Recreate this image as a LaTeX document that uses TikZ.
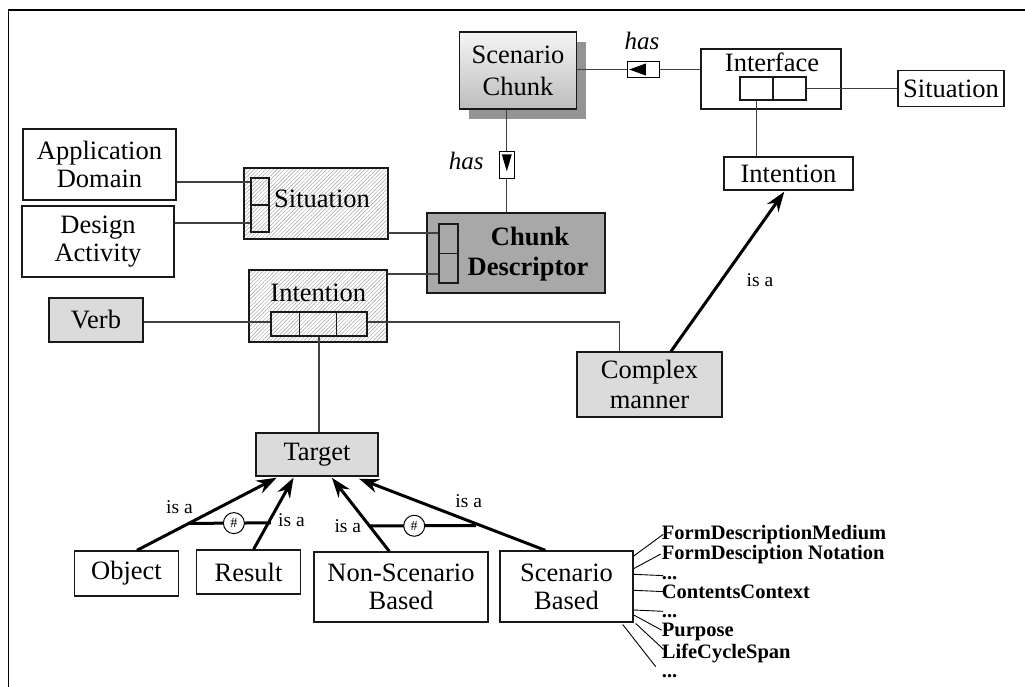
\documentclass[tikz,border=0pt]{standalone}
\usepackage{fontspec}
\setmainfont{Liberation Serif}
\usetikzlibrary{arrows.meta,patterns.meta,calc,shadows}

\newcommand\mtxt{\fontsize{26.5}{29}\selectfont}
\newcommand\stxt{\fontsize{19.5}{21}\selectfont}
\newcommand\atxt{\fontsize{20.5}{22}\selectfont\bfseries}

\tikzset{
  box/.style={rectangle, draw=black!90, line width=1.4pt, inner sep=0pt,
              align=center, font=\mtxt},
  greybox/.style={box, fill=black!14},
  darkbox/.style={box, fill=black!34},
  hatchbox/.style={box, pattern={Lines[angle=45,distance=2.7pt,line width=0.45pt]},
              pattern color=black!38},
  cell/.style={rectangle, draw=black!90, line width=1.2pt, inner sep=0pt},
  divline/.style={draw=black!90, line width=1.2pt},
  link/.style={draw=black!75, line width=1.2pt},
  thinlink/.style={draw=black, line width=0.9pt},
  isa/.style={draw=black, line width=3pt, -{Stealth[length=20pt,width=14pt]}},
  excl/.style={draw=black, line width=3pt},
  xorc/.style={circle, draw=black, line width=1pt, fill=white, minimum size=21pt,
              inner sep=0pt, font=\fontsize{14}{14}\selectfont},
  roletag/.style={rectangle, draw=black, line width=1.1pt, fill=white, inner sep=0pt},
  tagtip/.style={fill=black},
  rolelbl/.style={font=\fontsize{25}{25}\selectfont\itshape, inner sep=0pt, anchor=base},
  isalbl/.style={font=\stxt, inner sep=0pt},
  attr/.style={font=\atxt, inner sep=0pt, anchor=base west},
  txt/.style={font=\mtxt, inner sep=0pt, anchor=base},
}

\begin{document}
\begin{tikzpicture}[x=1pt,y=-1pt]
\useasboundingbox (0,0) rectangle (1025,687);
\draw[line width=1.5pt] (8.5,687) -- (8.5,10) -- (1025,10);

% ---- scenario chunk and its interface
\node[box, minimum width=117pt, minimum height=77pt, top color=black!4, bottom color=black!26,
  drop shadow={shadow xshift=9pt, shadow yshift=-10pt, fill=black!42, opacity=1}]
  (sc) at (518,70.5) {Scenario\\[3pt]Chunk};

\node[roletag, minimum width=32pt, minimum height=16pt] (hb1) at (643.3,69.5) {};
\fill[tagtip] ($(hb1.west)+(2.5,0)$) -- ($(hb1.west)+(19,-6)$) -- ($(hb1.west)+(19,6)$) -- cycle;
\node[rolelbl] (has1) at (642,50) {has};

\node[box, minimum width=140pt, minimum height=60pt] (if) at (771,79) {};
\node[txt] (iftxt) at (772,72) {Interface};
\node[cell, minimum width=66pt, minimum height=23pt] (ifc) at (773,88.5) {};
\draw[divline] (ifc.north) -- (ifc.south);

\node[box, minimum width=106pt, minimum height=36pt] (sitR) at (951,88.5) {Situation};
\node[box, minimum width=129pt, minimum height=33pt] (intR) at (788.5,173.5) {Intention};

\draw[link] (sc.east |- hb1.center) -- (hb1.west);
\draw[link] (hb1.east) -- (if.west |- hb1.center);
\draw[link] (ifc.east) -- (sitR.west |- ifc.east);
\coordinate (ifcl) at ($(ifc.south west)!0.25!(ifc.south east)$);
\draw[link] (ifcl) -- (ifcl |- intR.north);

% ---- chunk descriptor
\node[roletag, minimum width=15pt, minimum height=27pt] (hb2) at (506.8,165.4) {};
\fill[tagtip] ($(hb2.north)+(-5,3)$) -- ($(hb2.north)+(5,3)$) -- ($(hb2.north)+(0,20)$) -- cycle;
\node[rolelbl] (has2) at (466.3,170) {has};

\node[darkbox, minimum width=178pt, minimum height=80pt] (cd) at (516,253) {};
\node[txt, font=\mtxt\bfseries] (cdt1) at (530,245) {Chunk};
\node[txt, font=\mtxt\bfseries] (cdt2) at (528,275.7) {Descriptor};
\node[cell, minimum width=19pt, minimum height=59pt] (cdc) at (448.5,253.5) {};
\draw[divline] (cdc.west) -- (cdc.east);

\draw[link] (hb2.north |- sc.south) -- (hb2.north);
\draw[link] (hb2.south) -- (hb2.south |- cd.north);

% ---- situation
\node[box, minimum width=153pt, minimum height=71pt] (ad) at (99.5,164.5) {Application\\[-1pt]Domain};
\node[box, minimum width=152pt, minimum height=71pt] (da) at (98,241.5) {Design\\[-1pt]Activity};
\node[hatchbox, minimum width=144pt, minimum height=71pt] (sitL) at (316,203.5) {};
\node[txt] (sitLtxt) at (322,207.7) {Situation};
\node[cell, minimum width=18pt, minimum height=54pt] (sitLc) at (260,205) {};
\draw[divline] (sitLc.west) -- (sitLc.east);

\draw[link] (ad.east |- 0,182) -- (sitLc.west |- 0,182);
\draw[link] (da.east |- 0,223) -- (sitLc.west |- 0,223);
\draw[link] (sitL.east |- 0,233) -- (cdc.west |- 0,233);

% ---- intention
\node[hatchbox, minimum width=138pt, minimum height=72pt] (intL) at (318,306) {};
\node[txt] (intLtxt) at (318.3,301) {Intention};
\node[cell, minimum width=96pt, minimum height=24pt] (intLc) at (319,324) {};
\draw[divline] ($(intLc.north west)!0.302!(intLc.north east)$) -- ($(intLc.south west)!0.302!(intLc.south east)$);
\draw[divline] ($(intLc.north west)!0.677!(intLc.north east)$) -- ($(intLc.south west)!0.677!(intLc.south east)$);
\draw[link] (intL.east |- 0,274) -- (cdc.west |- 0,274);

\node[greybox, minimum width=94pt, minimum height=44pt] (vb) at (96,320) {Verb};
\node[greybox, minimum width=145pt, minimum height=65pt] (cm) at (649.5,384.5) {Complex\\[1pt]manner};
\node[greybox, minimum width=122pt, minimum height=43pt] (tg) at (317,454.5) {Target};

\draw[link] (vb.east |- 0,322) -- (intLc.west |- 0,322);
\draw[link] (intLc.east |- 0,322) -| ($(cm.north west)+(43,0)$);
\draw[link] (intLc.south) -- (intLc.south |- tg.north);

\draw[isa] ($(cm.north west)+(94.7,0)$) -- ($(intR.south west)+(61,1)$);
\node[isalbl] (isa5) at (760,280) {is a};

% ---- target specialisations
\node[box, minimum width=104pt, minimum height=45pt] (obj) at (126.5,573.5) {Object};
\node[box, minimum width=104pt, minimum height=44pt] (res) at (248.5,572) {Result};
\node[box, minimum width=174pt, minimum height=70pt] (nsb) at (401,587) {Non-Scenario\\[-1pt]Based};
\node[box, minimum width=133pt, minimum height=71pt] (sb) at (566.5,586.5) {Scenario\\[-1pt]Based};

\coordinate (oS) at ($(obj.north west)+(63.2,0)$);
\coordinate (oE) at ($(tg.south west)+(21.4,1)$);
\coordinate (rS) at ($(res.north west)+(57.8,0)$);
\coordinate (rE) at ($(tg.south west)+(38.2,1)$);
\coordinate (nS) at ($(nsb.north west)+(76,0)$);
\coordinate (nE) at ($(tg.south west)+(76.5,1)$);
\coordinate (sS) at ($(sb.north west)+(46,0)$);
\coordinate (sE) at ($(tg.south west)+(103.7,2)$);

\draw[isa] (oS) -- (oE);
\draw[isa] (rS) -- (rE);
\draw[isa] (nS) -- (nE);
\draw[isa] (sS) -- (sE);

\coordinate (x1a) at ($(oS)!0.37!(oE)$);
\coordinate (x1b) at ($(rS)!0.37!(rE)+(2.5,0)$);
\draw[excl] (x1a) -- (x1b);
\node[xorc] (xor1) at ($(x1a)!0.55!(x1b)$) {\#};
\coordinate (x2a) at ($(nS)!0.345!(nE)$);
\coordinate (x2b) at ($(sS)!0.345!(sE)+(-5,0)$);
\draw[excl] (x2a) -- (x2b);
\node[xorc] (xor2) at ($(x2a)!0.42!(x2b)$) {\#};

\node[isalbl] (isa1) at (179.5,506.7) {is a};
\node[isalbl] (isa2) at (291.5,520) {is a};
\node[isalbl] (isa3) at (347.8,526) {is a};
\node[isalbl] (isa4) at (468.7,501) {is a};

% ---- attributes of scenario based targets
\node[attr] (l1) at (661.7,539.3) {FormDescriptionMedium};
\node[attr] (l2) at (661.7,559) {FormDesciption Notation};
\node[attr] (l3) at (661.7,579) {...};
\node[attr] (l4) at (661.7,598.3) {ContentsContext};
\node[attr] (l5) at (661.7,617.7) {...};
\node[attr] (l6) at (661.7,636.7) {Purpose};
\node[attr] (l7) at (661.7,658.5) {LifeCycleSpan};
\node[attr] (l8) at (661.7,677) {...};

\draw[thinlink] ($(sb.north east)+(0,5.7)$) -- ([xshift=1.5pt]l1.west);
\draw[thinlink] ($(sb.north east)+(0,18.3)$) -- ([xshift=-1pt]l2.west);
\draw[thinlink] ($(sb.north east)+(0,24)$) -- ([xshift=1.5pt,yshift=2pt]l3.west);
\draw[thinlink] ($(sb.north east)+(0,40)$) -- ([xshift=1.5pt]l4.west);
\draw[thinlink] ($(sb.north east)+(0,59.7)$) -- ([xshift=1.5pt,yshift=5pt]l5.west);
\draw[thinlink] ($(sb.north east)+(0,64.7)$) -- ([yshift=2pt]l6.west);
\draw[thinlink] ($(sb.south east)+(2,0.8)$) -- ([xshift=2pt,yshift=4pt]l7.west);
\draw[thinlink] ($(sb.south east)+(-11,1.8)$) -- ([xshift=-6pt,yshift=9pt]l8.west);
\end{tikzpicture}
\end{document}
